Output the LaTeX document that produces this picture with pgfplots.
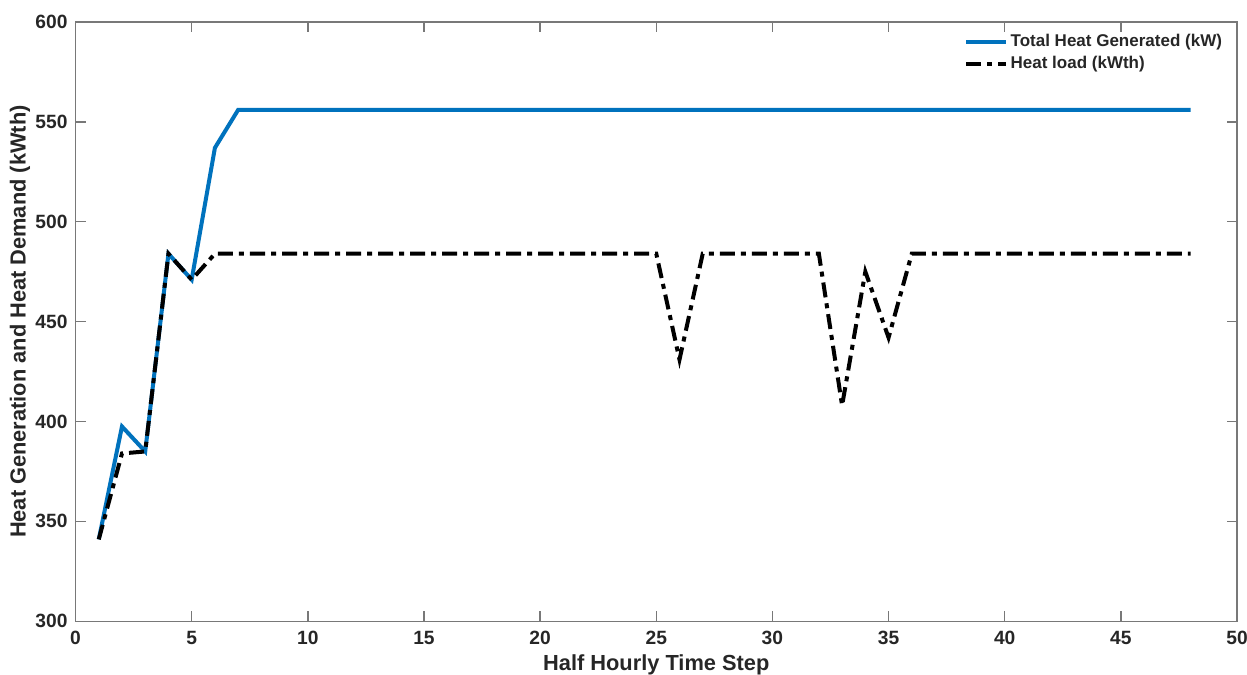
\documentclass[border=0pt]{standalone}
\usepackage{fontspec}
\setmainfont{Liberation Sans}
\usepackage{pgfplots}
\pgfplotsset{compat=1.18}
\definecolor{mblue}{RGB}{0,114,189}
\definecolor{axgray}{RGB}{120,120,120}
\definecolor{txt}{RGB}{38,38,38}
\begin{document}
\begin{tikzpicture}
\begin{axis}[
    name=ax,
    scale only axis, width=580.5pt, height=299.5pt,
    xmin=0, xmax=50, ymin=300, ymax=600,
    xtick={0,5,...,50}, ytick={300,350,...,600},
    tick align=inside, major tick length=5pt,
    axis line style={axgray, line width=0.7pt}, every tick/.style={axgray, line width=0.7pt},
    tick label style={font=\bfseries\fontsize{9.6}{11}\selectfont, text=txt},
    /pgf/number format/assume math mode=true,
    xticklabel style={yshift=-1.5pt},
    yticklabel style={xshift=-0.5pt},
    xlabel={\bfseries Half Hourly Time Step},
    ylabel={\bfseries Heat Generation and Heat Demand (kWth)},
    label style={font=\bfseries\fontsize{10.9}{13}\selectfont, text=txt},
    xlabel style={at={(axis description cs:0.5,0)}, anchor=center, yshift=-22pt},
    ylabel style={at={(axis description cs:0,0.5)}, anchor=center, rotate=0, yshift=27.75pt},
    legend style={draw=none, fill=none, inner sep=0pt, outer sep=0pt,
        at={(1,1)}, anchor=north east, xshift=-6.3pt, yshift=-4.6pt,
        font=\bfseries\fontsize{8.5}{10}\selectfont, text=txt,
        nodes={text height=6.5pt, text depth=1.8pt, inner sep=1.2pt}, row sep=0.3pt},
    legend cell align=left,
    legend image code/.code={\draw[#1] (0pt,0pt) -- (20pt,0pt);},
]
\addplot[mblue, line width=2pt] coordinates {
 (1,341) (2,397.5) (3,385) (4,484) (5,471) (6,537) (7,556) (8,556) (10,556)
 (20,556) (30,556) (40,556) (48,556)};
\addlegendentry{Total Heat Generated (kW)}
\addplot[black, line width=2pt, dash pattern=on 7.5pt off 3pt on 2.5pt off 3pt] coordinates {
 (1,341) (2,384) (3,385) (4,484) (5,471) (6,484) (7,484) (8,484) (9,484) (10,484)
 (11,484) (12,484) (13,484) (14,484) (15,484) (16,484) (17,484) (18,484) (19,484)
 (20,484) (21,484) (22,484) (23,484) (24,484) (25,484) (26,431) (27,484) (28,484)
 (29,484) (30,484) (31,484) (32,484) (33,408) (34,475) (35,442) (36,484) (37,484)
 (38,484) (39,484) (40,484) (41,484) (42,484) (43,484) (44,484) (45,484) (46,484)
 (47,484) (48,484)};
\addlegendentry{Heat load (kWth)}
\end{axis}
\pgfresetboundingbox
\path ([shift={(-37.75pt,-26.75pt)}]ax.south west) rectangle ([shift={(5pt,11pt)}]ax.north east);
\end{tikzpicture}
\end{document}
